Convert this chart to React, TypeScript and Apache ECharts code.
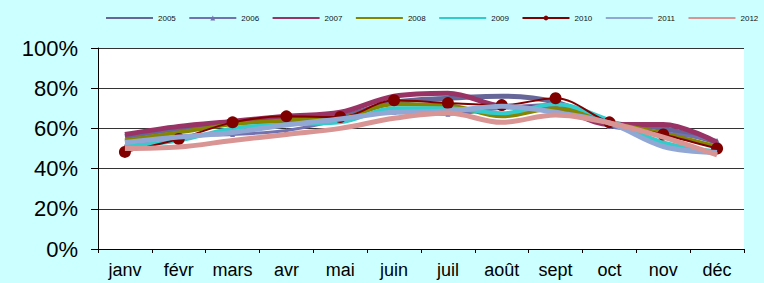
import React, { useEffect, useRef } from "react";
import * as echarts from "echarts";

const categories = ["janv", "févr", "mars", "avr", "mai", "juin", "juil", "août", "sept", "oct", "nov", "déc"];
const yTicks = [0, 20, 40, 60, 80, 100];

const s2005 = [56, 60, 63, 64, 66, 73, 75, 76, 73, 63, 60, 53];
const s2006 = [51, 56, 57, 59, 64, 68, 67, 70, 72, 61, 58, 54];
const s2007 = [57, 61, 63.5, 66, 68, 76, 77.5, 71, 70, 62, 62, 53];
const s2008 = [54, 58, 62, 64, 65, 72, 71.5, 66, 70, 63, 57.5, 51];
const s2009 = [51, 54, 60, 62, 63, 70, 70, 67.5, 72, 64, 53, 48.5];
const s2010 = [48.3, 54.7, 63, 66, 65.7, 74, 72.6, 71.6, 75, 63, 57, 50];
const s2011 = [53, 55.7, 58, 61.7, 64.7, 68, 68.6, 71, 68, 62.7, 51, 48];
const s2012 = [50, 50.7, 54, 57, 60, 65, 67.6, 63, 66.7, 62.7, 55.7, 46.8];

const seriesNames = ["2005", "2006", "2007", "2008", "2009", "2010", "2011", "2012"];
const seriesData = [s2005, s2006, s2007, s2008, s2009, s2010, s2011, s2012];
const colors = ["#666699", "#7272B0", "#993366", "#858500", "#33CCCC", "#800000", "#92A8D4", "#D99594"];
const widths = [5, 3, 5, 4, 4, 2, 5, 5];
const symbols = ["none", "triangle", "none", "none", "none", "circle", "none", "none"];
const symbolSizes = [0, 5, 0, 0, 0, 12, 0, 0];

const FONT = "Arial";

export default function App() {
  const ref = useRef<HTMLDivElement>(null);
  useEffect(() => {
    document.body.style.margin = "0";
    const chart = echarts.init(ref.current!, null, { renderer: "svg" });
    chart.setOption({
      animation: false,
      backgroundColor: "#CCFFFF",
      textStyle: { fontFamily: FONT },
      legend: {
        top: 9,
        left: 100,
        width: 1200,
        itemWidth: 47,
        itemHeight: 6,
        itemGap: 12.5,
        textStyle: { fontSize: 8, color: "#111", fontFamily: FONT },
        lineStyle: { width: 2 },
        data: seriesNames.map((name, i) => ({
          name,
          itemStyle: symbols[i] === "none" ? { opacity: 0 } : { color: colors[i] },
        })),
      },
      grid: {
        left: 98,
        right: 20,
        top: 48,
        bottom: 34,
        show: true,
        backgroundColor: "#ffffff",
        borderWidth: 0,
      },
      xAxis: {
        type: "category",
        data: categories,
        boundaryGap: true,
        axisLine: { lineStyle: { color: "#000", width: 1 } },
        axisTick: { show: true, length: 4, lineStyle: { color: "#000" } },
        axisLabel: { color: "#000", fontSize: 18, margin: 12, fontFamily: FONT },
      },
      yAxis: {
        type: "value",
        min: 0,
        max: 100,
        interval: 20,
        axisLine: { show: true, lineStyle: { color: "#000", width: 1 } },
        axisTick: { show: true, length: 7, lineStyle: { color: "#000" } },
        axisLabel: {
          color: "#000",
          fontSize: 22,
          margin: 20,
          fontFamily: FONT,
          formatter: (v: number) => (yTicks.includes(v) ? v + "%" : ""),
        },
        splitLine: { show: true, lineStyle: { color: "#333", width: 1 } },
      },
      series: seriesNames.map((name, i) => ({
        name,
        type: "line",
        data: seriesData[i],
        smooth: 0.35,
        symbol: symbols[i],
        symbolSize: symbolSizes[i],
        showSymbol: symbols[i] !== "none",
        color: colors[i],
        lineStyle: { color: colors[i], width: widths[i] },
        itemStyle: { color: colors[i] },
        z: 2 + i,
      })),
    });
    return () => chart.dispose();
  }, []);
  return <div ref={ref} style={{ position: "absolute", left: 0, top: 0, width: 764, height: 283 }} />;
}
